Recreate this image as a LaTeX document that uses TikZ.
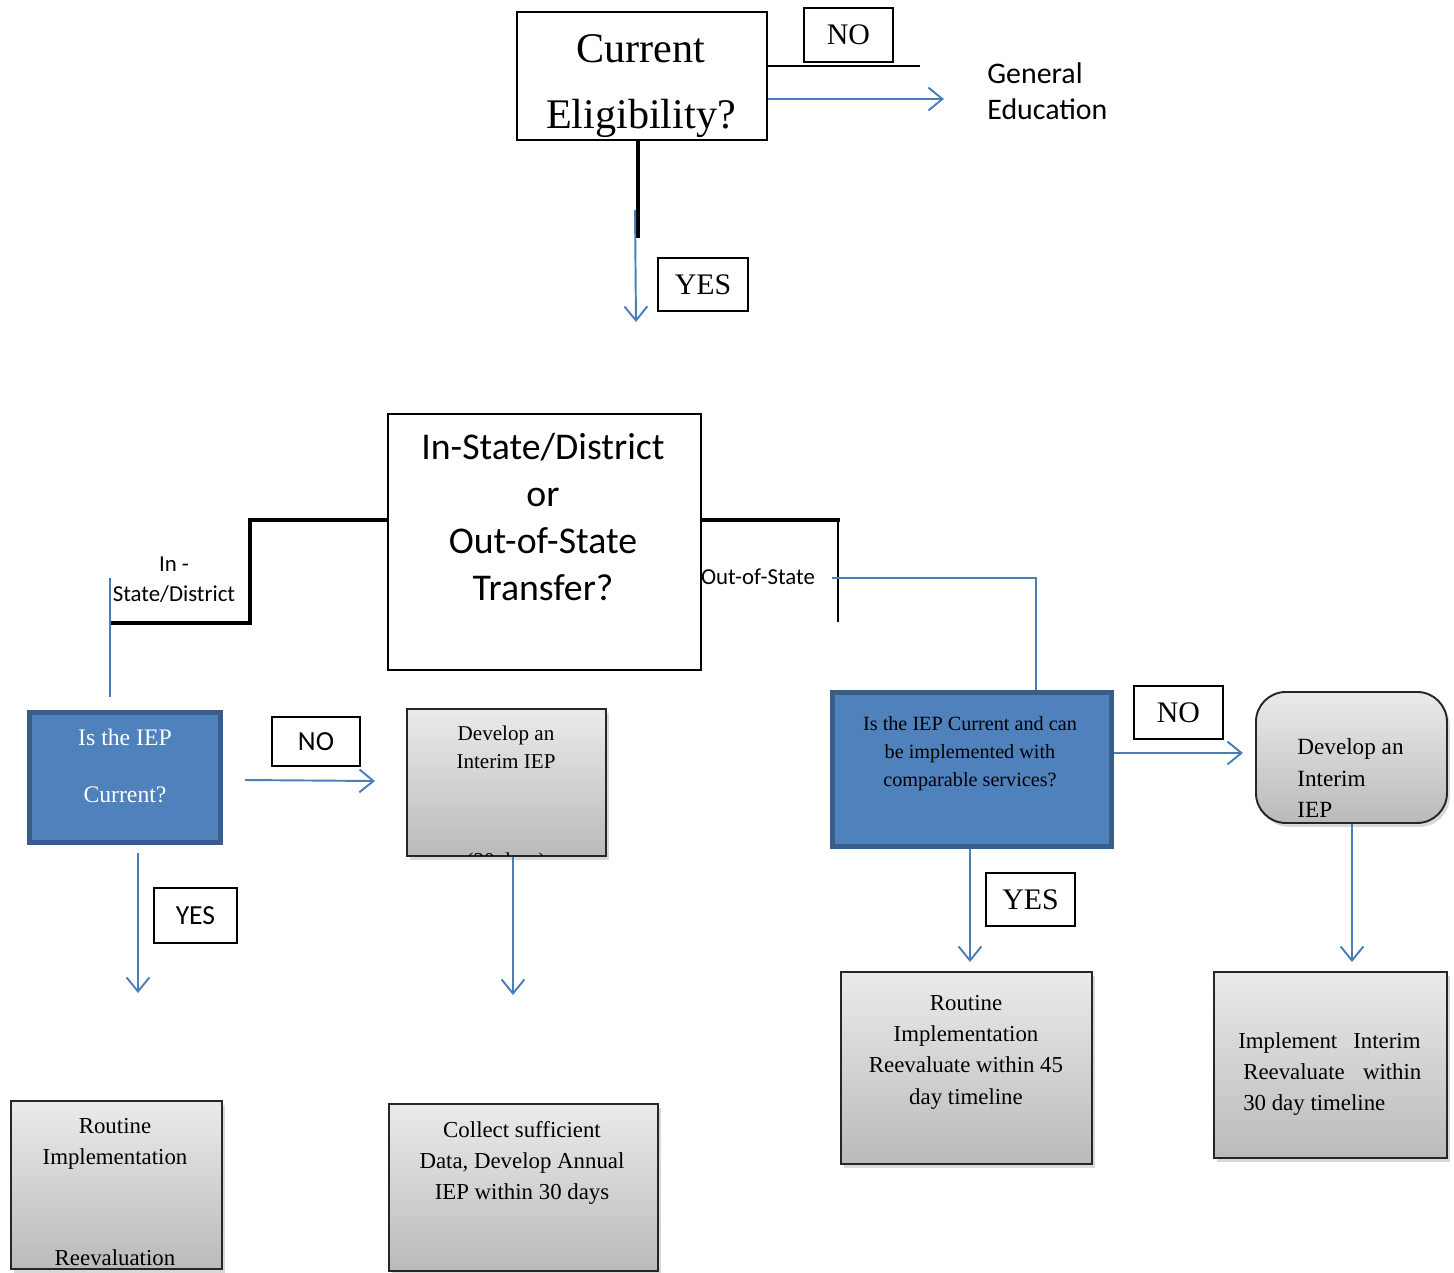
\documentclass[tikz,border=0pt]{standalone}
\usepackage{fontspec}
\setmainfont{Liberation Serif}
\newfontfamily\calfont{Carlito}
\usetikzlibrary{arrows.meta,shadows}
\definecolor{iepblue}{HTML}{4F81BD}
\definecolor{iepedge}{HTML}{385D8A}
\definecolor{linkblue}{HTML}{4A7EBB}
\newcommand{\pxu}{0.02cm}

\begin{document}
\begin{tikzpicture}[x=0.02cm,y=-0.02cm,
box/.style={draw,line width=1.1pt,inner sep=0pt,anchor=north west},
tag/.style={box,fill=white},
query/.style={draw=iepedge,line width=2.8pt,fill=iepblue,inner sep=0pt,anchor=north west},
action/.style={box,draw=black!85,top color=black!8,bottom color=black!27,
  drop shadow={shadow xshift=1.6pt,shadow yshift=-2.2pt,opacity=.3}},
txt/.style={align=center,inner sep=0pt},
arr/.style={-{Straight Barb[length=8pt,width=13pt]},draw=linkblue,line width=1.1pt},
link/.style={draw=linkblue,line width=1.1pt},
bar/.style={line width=2.1pt},
hair/.style={line width=0.6pt}]
\useasboundingbox (0,0) rectangle (1454,1272);
% eligibility question
\node[box,minimum width=250*\pxu,minimum height=128*\pxu] (elig) at (516,11) {};
\node[txt,font=\fontsize{24}{38}\selectfont] (eligtxt) at (641,86) {Current\\Eligibility?};
\node[tag,minimum width=89*\pxu,minimum height=54*\pxu,font=\fontsize{17}{20}\selectfont] (notop) at (803,7) {NO};
\node[txt,align=left,anchor=west,font=\calfont\fontsize{17}{20.4}\selectfont] (gened) at (987,91) {General\\Education};
\coordinate (noline) at (920,66);
\coordinate (gearr) at (944,99);
\draw[hair] (elig.east |- noline) -- (noline);
\draw[arr] (elig.east |- gearr) -- (gearr);
\coordinate (stem) at (638,238);
\coordinate (yestop) at (635,210);
\coordinate (yesend) at (636,322);
\draw[bar] (stem |- elig.south) -- (stem);
\draw[arr] (yestop) -- (yesend);
\node[tag,minimum width=90*\pxu,minimum height=53*\pxu,font=\fontsize{17}{20}\selectfont] (yestag) at (657,257) {YES};

% transfer question
\node[box,minimum width=313*\pxu,minimum height=256*\pxu] (transfer) at (387,413) {};
\node[txt,font=\calfont\fontsize{21.5}{26.6}\selectfont] (transtxt) at (543,517) {In-State/District\\or\\Out-of-State\\Transfer?};
\coordinate (inbend) at (250,520);
\coordinate (inend) at (110,623);
\draw[bar] (transfer.west |- inbend) -- (inbend) |- (inend);
\node[txt,font=\calfont\fontsize{13}{17}\selectfont] (inlab) at (174,580) {In -\\State/District};
\coordinate (outbend) at (840,520);
\coordinate (outtick) at (838,622);
\draw[bar] (transfer.east |- outbend) -- (outbend);
\draw[hair] (outtick |- outbend) -- (outtick);
\node[txt,font=\calfont\fontsize{13}{17}\selectfont] (ooslab) at (758,577) {Out-of-State};

% in-state branch
\node[query,minimum width=191*\pxu,minimum height=130*\pxu] (iepq) at (27,710) {};
\node[txt,text=white,font=\fontsize{13.5}{32.3}\selectfont] (iepqtxt) at (125,766) {Is the IEP\\Current?};
\coordinate (intop) at (110,578);
\coordinate (inlow) at (110,697);
\draw[link] (intop) -- (inlow);
\node[tag,minimum width=88*\pxu,minimum height=49*\pxu,font=\calfont\fontsize{15.7}{19}\selectfont] (nolt) at (271,716) {NO};
\coordinate (nol1) at (245,780);
\coordinate (nol2) at (375,781);
\draw[arr] (nol1) -- (nol2);
\node[action,minimum width=199*\pxu,minimum height=147*\pxu] (devl) at (406,708) {};
\node[txt,font=\fontsize{12}{15.9}\selectfont] (devltxt) at (506,747) {Develop an\\Interim IEP};
\begin{scope}
\clip (406,708) rectangle (605,855);
\node[txt,font=\fontsize{12}{15.9}\selectfont] (devlnote) at (506,862) {(30 days)};
\end{scope}
\coordinate (yl1) at (138,853);
\coordinate (yl2) at (138,993);
\draw[arr] (yl1) -- (yl2);
\node[tag,minimum width=83*\pxu,minimum height=55*\pxu,font=\calfont\fontsize{15.7}{19}\selectfont] (yeslt) at (153,887) {YES};
\coordinate (dl2) at (513,995);
\draw[arr] (dl2 |- devl.south) -- (dl2);
\node[action,minimum width=211*\pxu,minimum height=168*\pxu] (routl) at (10,1100) {};
\node[txt,anchor=north,font=\fontsize{13}{17.8}\selectfont] (routltxt) at (115,1118) {Routine\\Implementation\\[39.5pt]Reevaluation};
\node[action,minimum width=269*\pxu,minimum height=167*\pxu] (collect) at (388,1103) {};
\node[txt,font=\fontsize{13}{17.8}\selectfont] (collecttxt) at (522,1163) {Collect sufficient\\Data, Develop Annual\\IEP within 30 days};

% out-of-state branch
\node[query,minimum width=279*\pxu,minimum height=154*\pxu] (oosq) at (830,690) {};
\node[txt,font=\fontsize{11.5}{15.9}\selectfont] (oosqtxt) at (970,754) {Is the IEP Current and can\\be implemented with\\comparable services?};
\coordinate (oosa) at (832,578);
\coordinate (oosb) at (1036,578);
\draw[link] (oosa) -- (oosb) -- (oosb |- oosq.north);
\node[tag,minimum width=89*\pxu,minimum height=53*\pxu,font=\fontsize{17}{20}\selectfont] (nort) at (1133,685) {NO};
\coordinate (nor) at (1243,753);
\draw[arr] (oosq.east |- nor) -- (nor);
\node[action,rounded corners=17pt,minimum width=191*\pxu,minimum height=131*\pxu] (devr) at (1255,691) {};
\node[txt,align=left,anchor=west,font=\fontsize{13.2}{17.8}\selectfont] (devrtxt) at (1297,778) {Develop an\\Interim\\IEP};
\coordinate (yr) at (970,962);
\draw[arr] (yr |- oosq.south) -- (yr);
\node[tag,minimum width=89*\pxu,minimum height=53*\pxu,font=\fontsize{17}{20}\selectfont] (yesrt) at (985,872) {YES};
\coordinate (ir) at (1352,962);
\draw[arr] (ir |- devr.south) -- (ir);
\node[action,minimum width=251*\pxu,minimum height=192*\pxu] (routr) at (840,971) {};
\node[txt,font=\fontsize{13}{17.8}\selectfont] (routrtxt) at (966,1052) {Routine\\Implementation\\Reevaluate within 45\\day timeline};
\node[action,minimum width=233*\pxu,minimum height=186*\pxu] (implr) at (1213,971) {};
\node[txt,align=left,anchor=west,font=\fontsize{13}{17.8}\selectfont] (implrtxt) at (1238,1074) {Implement\hspace{0.7em}Interim\\\hspace*{2.8pt}Reevaluate\hspace{0.8em}within\\\hspace*{2.8pt}30 day timeline};
\end{tikzpicture}
\end{document}
